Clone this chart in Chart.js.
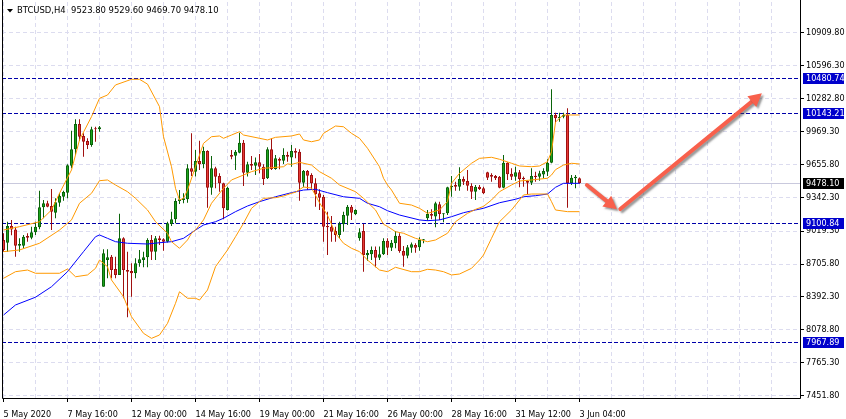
<!DOCTYPE html>
<html>
<head>
<meta charset="utf-8">
<script src="https://cdn.jsdelivr.net/npm/chart.js@4.4.0/dist/chart.umd.min.js"></script>
<style>
html, body { margin: 0; padding: 0; background: #fff; }
#chart { display: block; }
</style>
</head>
<body>
<canvas id="chart" width="846" height="419"></canvas>
<script>
// BTCUSD H4 candles, bar 0 = 5 May 2020 00:00
const openPrices = [8935,8909,9068,9036,8880,8880,8973,8957,9008,9056,
  9246,9284,9259,9195,9291,9348,9386,9643,9799,10040,
  9925,9878,9840,9999,9989,8490,8744,8776,8659,8602,
  8951,8649,8640,8618,8713,8744,8770,8935,8824,8951,
  8941,8919,9088,9132,9307,9316,9323,9618,9586,9688,
  9656,9783,9433,9618,9545,9475,9221,9745,9738,9767,
  9862,9576,9659,9643,9675,9633,9523,9799,9611,9707,
  9691,9745,9720,9783,9776,9481,9592,9554,9475,9380,
  9348,9068,9062,9021,8983,9084,9167,9252,9180,8951,
  9021,8789,8799,8840,8767,8799,8929,8862,8903,8976,
  8830,8786,8862,8887,8865,8932,9142,9182,9160,9275,
  9180,9189,9437,9459,9443,9516,9497,9449,9395,9443,
  9427,9580,9554,9545,9538,9433,9672,9567,9538,9580,
  9529,9497,9481,9548,9538,9560,9586,9672,10126,10094,
  10110,10126,9475,9523,9523.8];
const highPrices = [8999,9110,9126,9062,8951,8983,8999,9062,9110,9405,
  9316,9310,9421,9332,9380,9405,9656,9976,10085,10085,
  9951,9904,10014,10014,10021,8846,8846,8792,8776,9184,
  8960,8824,8713,8761,8840,8824,8951,8983,8973,8976,
  8951,9110,9205,9332,9411,9380,9656,9951,9792,9881,
  9824,9790,9735,9633,9570,9480,9443,9792,9792,9957,
  9888,9681,9735,9722,9754,9656,9818,9904,9745,9722,
  9808,9776,9840,9808,9799,9602,9602,9570,9523,9418,
  9364,9205,9164,9062,9110,9205,9268,9268,9227,9046,
  9088,8840,8872,8872,8872,8951,8951,8935,9021,8999,
  8878,8887,8910,8904,8960,8945,9221,9227,9300,9300,
  9189,9443,9545,9490,9627,9539,9602,9475,9459,9459,
  9443,9586,9570,9554,9545,9745,9675,9618,9633,9602,
  9539,9505,9618,9586,9595,9618,9704,10371,10148,10148,
  10148,10190,9554,9554,9529.6];
const lowPrices = [8824,8824,8980,8776,8824,8856,8919,8941,8983,9037,
  9142,9246,9030,9142,9252,9310,9332,9618,9745,9878,
  9729,9802,9824,9871,9967,8490,8570,8570,8570,8602,
  8380,8198,8395,8570,8681,8675,8675,8744,8744,8887,
  8833,8910,9068,9094,9278,9284,9291,9545,9539,9602,
  9618,9243,9367,9428,9395,9132,9215,9704,9602,9761,
  9450,9539,9602,9554,9570,9459,9516,9602,9605,9608,
  9659,9681,9633,9713,9310,9437,9411,9411,9252,9221,
  8919,8792,8919,8919,8951,9014,9078,9126,9173,8929,
  8633,8738,8744,8675,8744,8792,8792,8830,8856,8814,
  8681,8761,8814,8814,8833,8904,9119,9132,9056,9126,
  9104,9173,9348,9405,9405,9459,9405,9326,9316,9411,
  9373,9507,9490,9507,9428,9428,9507,9507,9500,9437,
  9443,9373,9459,9490,9500,9523,9545,9665,10047,10062,
  10094,9243,9459,9428,9469.7];
const closePrices = [8840,9068,9036,8880,8896,8966,8957,9008,9062,9246,
  9284,9252,9205,9294,9354,9393,9647,9799,10040,9919,
  9871,9840,9989,9989,10008,8808,8770,8649,8602,8951,
  8649,8633,8618,8713,8751,8770,8935,8824,8951,8935,
  8919,9094,9132,9307,9323,9332,9618,9586,9688,9656,
  9783,9433,9618,9538,9475,9237,9433,9729,9776,9862,
  9576,9656,9643,9675,9633,9516,9799,9611,9713,9691,
  9745,9729,9783,9767,9481,9592,9548,9475,9370,9338,
  9062,9056,9014,8983,9088,9173,9252,9195,9221,9008,
  8792,8811,8840,8767,8799,8925,8862,8909,8976,8830,
  8786,8865,8894,8862,8935,8941,9182,9167,9284,9183,
  9189,9437,9449,9443,9516,9490,9452,9395,9443,9421,
  9380,9529,9538,9523,9433,9672,9561,9538,9580,9516,
  9513,9481,9545,9535,9570,9592,9672,10126,10094,10110,
  10126,9475,9529,9538,9478.1];

// Bollinger bands and moving average, read as [bar, price]
const upperBand = [[0,9030],[4,9062],[9,9109],[12,9221],[14,9380],[17,9602],[19,9888],[22,10110],[24,10285],[26,10316],
  [28,10412],[32,10466],[34,10466],[36,10420],[39,10205],[40,9919],[42,9633],[43,9427],[44,9316],[45,9332],
  [46,9411],[48,9633],[50,9856],[52,9919],[54,9926],[55,9904],[57,9935],[59,9967],[60,9935],[64,9904],
  [66,9888],[68,9913],[72,9926],[74,9945],[75,9888],[77,9871],[79,9888],[80,9951],[83,10021],[85,10014],
  [87,9951],[89,9904],[91,9809],[94,9633],[95,9523],[96,9459],[97,9411],[99,9285],[102,9268],[104,9237],
  [106,9189],[109,9221],[111,9300],[112,9475],[114,9570],[117,9666],[119,9713],[122,9723],[124,9704],[127,9666],
  [129,9640],[132,9633],[134,9640],[136,9681],[137,9776],[138,10059],[139,10094],[140,10126],[144,10126]];
const middleBand = [[0,8824],[4,8840],[9,8904],[14,9030],[17,9126],[19,9285],[22,9380],[24,9500],[26,9507],[28,9459],
  [31,9395],[33,9332],[36,9221],[38,9109],[41,8999],[42,8919],[44,8856],[46,8935],[47,8999],[48,9030],
  [50,9126],[52,9285],[55,9427],[57,9507],[60,9554],[62,9586],[65,9618],[67,9624],[70,9633],[71,9660],
  [72,9655],[74,9675],[77,9649],[79,9586],[82,9523],[84,9459],[88,9395],[90,9332],[93,9221],[95,9085],
  [96,9065],[98,9014],[100,8999],[103,8951],[106,8919],[108,8935],[111,8999],[113,9109],[116,9189],[118,9227],
  [120,9255],[122,9316],[124,9395],[127,9459],[129,9497],[132,9507],[136,9523],[137,9554],[138,9605],[140,9649],
  [142,9666],[144,9659]];
const lowerBand = [[0,8570],[3,8633],[6,8649],[8,8618],[14,8618],[16,8659],[18,8585],[21,8602],[23,8665],[24,8744],
  [26,8681],[27,8554],[30,8395],[32,8204],[35,8046],[37,7998],[39,8030],[41,8141],[43,8332],[44,8442],
  [46,8380],[48,8380],[49,8363],[51,8459],[53,8681],[56,8840],[58,8966],[60,9094],[62,9237],[65,9332],
  [68,9338],[70,9354],[72,9380],[73,9390],[75,9440],[77,9430],[79,9290],[81,9170],[83,8999],[85,8904],
  [87,8856],[89,8824],[91,8744],[94,8649],[96,8633],[98,8675],[102,8633],[104,8633],[106,8656],[108,8649],
  [110,8633],[112,8602],[114,8611],[117,8665],[119,8744],[120,8792],[122,8951],[124,9109],[127,9221],[129,9316],
  [130,9364],[132,9373],[136,9373],[137,9300],[138,9221],[141,9205],[144,9205]];
const movingAverage = [[0,8220],[3,8316],[8,8390],[12,8490],[16,8633],[20,8824],[23,8966],[24,8983],[26,8951],[28,8919],
  [31,8904],[36,8897],[39,8909],[42,8919],[45,8951],[48,9030],[50,9078],[53,9109],[55,9142],[58,9205],
  [61,9259],[64,9300],[68,9347],[72,9386],[75,9411],[78,9418],[81,9386],[85,9347],[89,9332],[91,9285],
  [94,9252],[96,9214],[99,9173],[104,9126],[106,9119],[109,9126],[112,9157],[115,9195],[118,9221],[120,9237],
  [124,9290],[128,9323],[130,9347],[133,9357],[136,9373],[138,9437],[140,9475],[144,9475]];

const labelBars = [0,16,32,48,64,80,96,112,128,144];
const labelTexts = ['5 May 2020','7 May 16:00','12 May 00:00','14 May 16:00','19 May 00:00',
  '21 May 16:00','26 May 00:00','28 May 16:00','31 May 12:00','3 Jun 04:00'];
const priceTicks = [10909.80,10596.30,10282.80,9969.30,9655.80,9342.30,9019.30,8705.80,8392.30,8078.80,7765.30,7451.80];
const levelPrices = [10480.74,10143.21,9100.84,7967.89];
const bidPrice = 9478.10;
const headerText = 'BTCUSD,H4  9523.80 9529.60 9469.70 9478.10';
// hand-drawn arrows, [bar, price]
const arrowStarts = [[145.85,9459],[154.2,9230]];
const arrowEnds = [[153.35,9227],[189.6,10332]];

const FONT = "'DejaVu Sans Condensed', 'DejaVu Sans', sans-serif";
const FONT_SIZE = 9;
const GRID = '#dcdcef';
const gridBars = [];
for (let i = 0; i <= 192; i += 8) gridBars.push(i);

const isUp = openPrices.map((o, i) => closePrices[i] >= o);
const bodies = openPrices.map((o, i) => ({x: i, y: [o, closePrices[i]]}));
const wicks = lowPrices.map((l, i) => ({x: i, y: [l, highPrices[i]]}));
const toXY = arr => arr.map(p => ({x: p[0], y: p[1]}));

function drawArrow(ctx, x0, y0, x1, y1, head, half) {
    const a = Math.atan2(y1 - y0, x1 - x0);
    const bx = x1 - head * Math.cos(a), by = y1 - head * Math.sin(a);
    ctx.beginPath(); ctx.moveTo(x0, y0); ctx.lineTo(bx, by); ctx.stroke();
    ctx.beginPath();
    ctx.moveTo(x1, y1);
    ctx.lineTo(bx + half * Math.sin(a), by - half * Math.cos(a));
    ctx.lineTo(bx - half * Math.sin(a), by + half * Math.cos(a));
    ctx.closePath(); ctx.fill();
}

const overlay = {
    id: 'overlay',
    beforeDatasetsDraw(chart) {
        const {ctx, chartArea: a, scales: {y}} = chart;
        ctx.save();
        ctx.beginPath(); ctx.rect(a.left, a.top, a.right - a.left, a.bottom - a.top); ctx.clip();
        ctx.lineWidth = 1;
        let yb = Math.round(y.getPixelForValue(bidPrice)) + 0.5;
        ctx.strokeStyle = '#c9c9dd';
        ctx.beginPath(); ctx.moveTo(a.left, yb); ctx.lineTo(a.right, yb); ctx.stroke();
        ctx.setLineDash([4, 2]);
        ctx.strokeStyle = '#0000aa';
        levelPrices.forEach(p => {
            let yy = Math.round(y.getPixelForValue(p)) + 0.5;
            ctx.beginPath(); ctx.moveTo(a.left, yy); ctx.lineTo(a.right, yy); ctx.stroke();
        });
        ctx.restore();
    },
    afterDatasetsDraw(chart) {
        const {ctx, scales: {x, y}} = chart;
        ctx.save();
        ctx.strokeStyle = '#f8604c'; ctx.fillStyle = '#f8604c';
        ctx.lineWidth = 4; ctx.lineCap = 'round';
        ctx.shadowColor = 'rgba(70,70,70,0.55)';
        ctx.shadowOffsetX = 2; ctx.shadowOffsetY = 2; ctx.shadowBlur = 2;
        arrowStarts.forEach((s, k) => {
            const e = arrowEnds[k];
            drawArrow(ctx, x.getPixelForValue(s[0]), y.getPixelForValue(s[1]),
                x.getPixelForValue(e[0]), y.getPixelForValue(e[1]), 13, 7);
        });
        ctx.restore();
    },
    afterDraw(chart) {
        const {ctx, chartArea: a, scales: {y}} = chart;
        ctx.save();
        // frame
        ctx.strokeStyle = '#000'; ctx.lineWidth = 1;
        ctx.beginPath();
        ctx.moveTo(a.left + 0.5, 0); ctx.lineTo(a.left + 0.5, a.bottom + 0.5);
        ctx.lineTo(a.right + 0.5, a.bottom + 0.5); ctx.lineTo(a.right + 0.5, 0);
        ctx.stroke();
        // price badges
        ctx.font = FONT_SIZE + 'px ' + FONT;
        ctx.textBaseline = 'middle'; ctx.textAlign = 'left';
        const badge = (p, bg) => {
            const yy = Math.round(y.getPixelForValue(p));
            ctx.fillStyle = bg;
            ctx.fillRect(a.right + 3, yy - 5, 41, 11);
            ctx.fillStyle = '#fff';
            ctx.fillText(p.toFixed(2), a.right + 6, yy + 0.5);
        };
        levelPrices.forEach(p => badge(p, '#0000cc'));
        badge(bidPrice, '#000');
        // header
        ctx.fillStyle = '#000';
        ctx.font = '9.4px ' + FONT;
        ctx.beginPath(); ctx.moveTo(7, 9); ctx.lineTo(13, 9); ctx.lineTo(10, 12.5); ctx.closePath(); ctx.fill();
        ctx.fillText(headerText, 17, 11);
        ctx.restore();
    }
};

new Chart(document.getElementById('chart'), {
    type: 'bar',
    data: {
        datasets: [
            {type: 'line', data: toXY(upperBand), borderColor: '#ff9900', borderWidth: 1, pointRadius: 0, order: -1},
            {type: 'line', data: toXY(middleBand), borderColor: '#ff9900', borderWidth: 1, pointRadius: 0, order: -1},
            {type: 'line', data: toXY(lowerBand), borderColor: '#ff9900', borderWidth: 1, pointRadius: 0, order: -1},
            {type: 'line', data: toXY(movingAverage), borderColor: '#0000ff', borderWidth: 1, pointRadius: 0, order: -1},
            {data: bodies, grouped: false, barThickness: 3, borderWidth: 1, borderSkipped: false,
                minBarLength: 1, inflateAmount: 0, order: 1,
                backgroundColor: isUp.map(u => u ? '#1ea51e' : '#e63a36'),
                borderColor: isUp.map(u => u ? '#0a640a' : '#a01010')},
            {data: wicks, grouped: false, barThickness: 1, borderWidth: 0, inflateAmount: 0, order: 2,
                backgroundColor: isUp.map(u => u ? '#0a640a' : '#a01010')}
        ]
    },
    options: {
        responsive: false,
        animation: false,
        layout: {padding: {left: 2, top: 2, right: 0, bottom: 0}},
        plugins: {legend: {display: false}, tooltip: {enabled: false}},
        scales: {
            x: {
                type: 'linear', position: 'bottom', min: -0.375, max: 199.125, offset: false,
                afterBuildTicks: s => { s.ticks = gridBars.map(v => ({value: v})); },
                afterFit: s => { s.height = 21; s.paddingLeft = 0; s.paddingRight = 0; },
                ticks: {
                    autoSkip: false, maxRotation: 0, align: 'start', padding: 7, color: '#000',
                    font: {family: FONT, size: FONT_SIZE},
                    callback: v => { const k = labelBars.indexOf(v); return k >= 0 ? labelTexts[k] : ''; }
                },
                grid: {offset: false, color: GRID, tickLength: 4,
                    tickColor: c => (c.tick && labelBars.includes(c.tick.value)) ? '#000' : 'rgba(0,0,0,0)'},
                border: {display: false, dash: [4, 3]}
            },
            y: {
                type: 'linear', position: 'right', min: 7429.8, max: 11202.3,
                afterBuildTicks: s => { s.ticks = priceTicks.map(v => ({value: v})); },
                afterFit: s => { s.width = 46; s.paddingTop = 0; s.paddingBottom = 0; },
                ticks: {padding: 2, color: '#000', font: {family: FONT, size: FONT_SIZE}, callback: v => v.toFixed(2)},
                grid: {color: GRID, tickLength: 4, tickColor: '#000'},
                border: {display: false, dash: [4, 3]}
            }
        }
    },
    plugins: [overlay]
});
</script>
</body>
</html>
